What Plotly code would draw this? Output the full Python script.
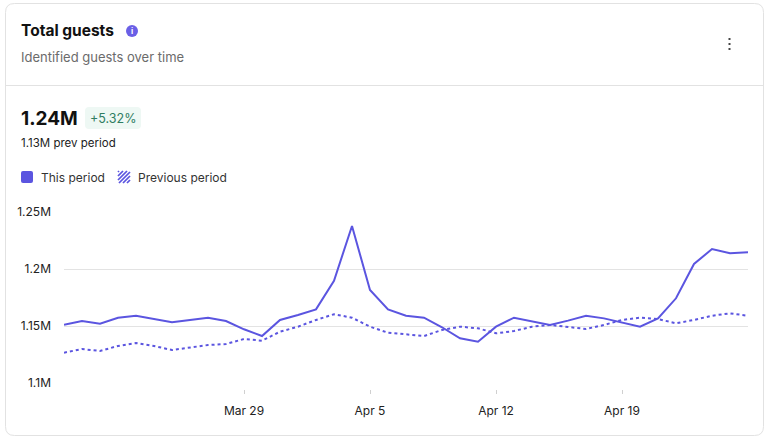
import plotly.graph_objects as go
import pandas as pd

W, H = 769, 440

dates = pd.date_range("2024-03-19", "2024-04-26", freq="D")

this_period = [1.1511, 1.1544, 1.1520, 1.1573, 1.1590, 1.1560, 1.1532, 1.1553, 1.1573, 1.1544,
               1.1471, 1.1412, 1.1553, 1.1596, 1.1646, 1.1897, 1.2377, 1.1816, 1.1646, 1.1590,
               1.1573, 1.1489, 1.1392, 1.1362, 1.1494, 1.1573, 1.1538, 1.1509, 1.1547, 1.1590,
               1.1567, 1.1529, 1.1494, 1.1567, 1.1743, 1.2044, 1.2175, 1.2138, 1.2146]

prev_period = [1.1266, 1.1298, 1.1281, 1.1325, 1.1351, 1.1325, 1.1289, 1.1313, 1.1333, 1.1342,
               1.1386, 1.1371, 1.1450, 1.1494, 1.1553, 1.1603, 1.1573, 1.1494, 1.1441, 1.1427,
               1.1412, 1.1465, 1.1494, 1.1480, 1.1436, 1.1456, 1.1494, 1.1509, 1.1494, 1.1474,
               1.1509, 1.1553, 1.1573, 1.1561, 1.1524, 1.1553, 1.1590, 1.1611, 1.1590]

this_values = [v * 1e6 for v in this_period]
prev_values = [v * 1e6 for v in prev_period]

y_ticks = [1.1e6, 1.15e6, 1.2e6, 1.25e6]
y_tick_labels = ["1.1M", "1.15M", "1.2M", "1.25M"]
x_ticks = ["2024-03-29", "2024-04-05", "2024-04-12", "2024-04-19"]
x_tick_labels = ["Mar 29", "Apr 5", "Apr 12", "Apr 19"]

LINE = "#5B55E0"
FONT = "Inter"


def px(x):
    return x / W


def py(y):
    return 1 - y / H


def rounded(x0, y0, x1, y1, r):
    return (f"M {px(x0+r)},{py(y0)} L {px(x1-r)},{py(y0)} Q {px(x1)},{py(y0)} {px(x1)},{py(y0+r)} "
            f"L {px(x1)},{py(y1-r)} Q {px(x1)},{py(y1)} {px(x1-r)},{py(y1)} "
            f"L {px(x0+r)},{py(y1)} Q {px(x0)},{py(y1)} {px(x0)},{py(y1-r)} "
            f"L {px(x0)},{py(y0+r)} Q {px(x0)},{py(y0)} {px(x0+r)},{py(y0)} Z")


fig = go.Figure()
fig.add_trace(go.Scatter(x=dates, y=prev_values, mode="lines",
                         line=dict(color=LINE, width=2, dash="dot"),
                         name="Previous period", hoverinfo="skip"))
fig.add_trace(go.Scatter(x=dates, y=this_values, mode="lines",
                         line=dict(color=LINE, width=2),
                         name="This period", hoverinfo="skip"))

shapes = []
# card
shapes.append(dict(type="path", xref="paper", yref="paper", path=rounded(5.5, 3.5, 763.5, 435.5, 9),
                   line=dict(color="#E2E2E2", width=1), fillcolor="white", layer="below"))
# divider
shapes.append(dict(type="line", xref="paper", yref="paper", x0=px(5.5), x1=px(763.5),
                   y0=py(85.5), y1=py(85.5), line=dict(color="#E2E2E2", width=1)))
# info icon
shapes.append(dict(type="circle", xref="paper", yref="paper", x0=px(126), x1=px(138),
                   y0=py(25), y1=py(37), fillcolor="#6A5FE6", line=dict(width=0)))
# kebab dots
for dy in (39, 44, 49):
    shapes.append(dict(type="rect", xref="paper", yref="paper", x0=px(728.5), x1=px(730.5),
                       y0=py(dy - 1), y1=py(dy + 1), fillcolor="#444444", line=dict(width=0)))
# badge
shapes.append(dict(type="path", xref="paper", yref="paper", path=rounded(85, 107, 141, 129, 4),
                   fillcolor="#EEF8F4", line=dict(width=0)))
# legend solid square
shapes.append(dict(type="path", xref="paper", yref="paper", path=rounded(21, 171, 33, 183, 2),
                   fillcolor=LINE, line=dict(width=0)))
# legend hatched square: stripes rising to the right ("/")
hx0, hy0, s = 118, 171, 12
for c in range(-11, 13, 4):
    # line: up = x - c  (x, up measured from bottom-left of square)
    xa = max(0, c)
    xb = min(s, s + c)
    if xb <= xa:
        continue
    shapes.append(dict(type="line", xref="paper", yref="paper",
                       x0=px(hx0 + xa), y0=py(hy0 + s - (xa - c)),
                       x1=px(hx0 + xb), y1=py(hy0 + s - (xb - c)),
                       line=dict(color=LINE, width=1.7)))


def ann(text, x, y, size, color, xanchor="left", bold=False):
    return dict(text=f"<b>{text}</b>" if bold else text, x=px(x), y=py(y),
                xref="paper", yref="paper", xanchor=xanchor, yanchor="middle",
                showarrow=False, font=dict(size=size, color=color, family=FONT))


annotations = [
    ann("Total guests", 19, 31, 15.5, "#111111", bold=True),
    ann("i", 132, 31, 8, "white", xanchor="center", bold=True),
    ann("Identified guests over time", 19, 57, 13, "#6B6B6B"),
    ann("1.24M", 19, 118, 19, "#111111", bold=True),
    ann("+5.32%", 113, 118, 12.5, "#2E7D62", xanchor="center"),
    ann("1.13M prev period", 19, 143, 11.5, "#222222"),
    ann("This period", 39, 177, 12, "#333333"),
    ann("Previous period", 136, 177, 12, "#333333"),
]

fig.update_layout(
    width=W, height=H,
    margin=dict(l=0, r=0, t=0, b=0, autoexpand=False),
    paper_bgcolor="white", plot_bgcolor="rgba(0,0,0,0)",
    showlegend=False,
    shapes=shapes, annotations=annotations,
    font=dict(family=FONT),
    xaxis=dict(domain=[px(64), px(748)], range=[dates[0], dates[-1]],
               tickvals=x_ticks, ticktext=x_tick_labels,
               showgrid=False, zeroline=False, showline=False,
               ticks="outside", ticklen=4, tickcolor="#D0D0D0", tickwidth=1,
               anchor="free", position=py(389),
               ticklabelstandoff=7,
               tickfont=dict(size=12, color="#222222", family=FONT)),
    yaxis=dict(domain=[py(383), py(212)], range=[1.1e6, 1.25e6],
               tickvals=y_ticks, ticktext=y_tick_labels,
               showgrid=True, gridcolor="#E3E3E3", gridwidth=1,
               zeroline=False, showline=False, ticks="",
               ticklabelstandoff=12,
               tickfont=dict(size=12, color="#222222", family=FONT)),
)

fig.write_html("out.html", config={"displayModeBar": False},
               post_script="document.body.style.margin='0';document.body.style.overflow='hidden';")
